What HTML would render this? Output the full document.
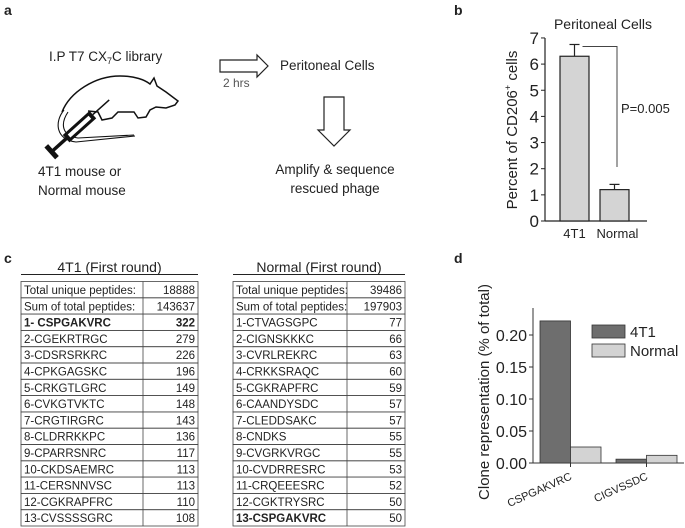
<!DOCTYPE html>
<html><head><meta charset="utf-8"><style>
body{margin:0;background:#fff;}
svg{display:block;font-family:"Liberation Sans",Arial,sans-serif;}
.tb{font-family:"Liberation Sans",sans-serif;font-size:11.5px;fill:#222;}
</style></head><body>
<svg width="685" height="528" viewBox="0 0 685 528">
<g font-weight="bold" font-size="14" fill="#222">
<text x="4" y="15">a</text>
<text x="454" y="15">b</text>
<text x="4" y="263">c</text>
<text x="454" y="263">d</text>
</g>
<!-- panel a -->
<g font-size="13.5" fill="#222">
<text x="49" y="61">I.P T7 CX<tspan font-size="9" dy="3">7</tspan><tspan dy="-3">C library</tspan></text>
<path d="M62,112 C70,92 95,76 120,76 C135,76 145,80 150,84 L154,78 L157,86 L166,92 L178,101 L175,105 L166,108 L156,107 L150,110 L146,117 L138,118 L134,112 L118,112 L112,118 L102,120 L98,112 L88,111" fill="none" stroke="#111" stroke-width="1.5"/>
<path d="M64,110 C54,122 56,140 76,142 L135,136 M68,112 C60,124 62,136 78,138 L134,135" fill="none" stroke="#111" stroke-width="1.1"/>
<g transform="rotate(-42 78 128)">
<rect x="62" y="123" width="36" height="10" fill="#111"/>
<rect x="66" y="126" width="28" height="4" fill="#fff"/>
<line x1="98" y1="128" x2="120" y2="128" stroke="#111" stroke-width="1.5"/>
<line x1="44" y1="128" x2="62" y2="128" stroke="#111" stroke-width="3.5"/>
<rect x="40" y="120" width="5" height="16" fill="#111"/>
</g>
<text x="38" y="176">4T1 mouse or</text>
<text x="38" y="195">Normal mouse</text>
<path d="M220,60 L257,60 L257,55 L268,66 L257,77 L257,72 L220,72 Z" fill="#fff" stroke="#222" stroke-width="1.2"/>
<text x="223" y="87" font-size="12" fill="#555">2 hrs</text>
<text x="280" y="70">Peritoneal Cells</text>
<path d="M324,97 L344,97 L344,130 L350,130 L334,146 L318,130 L324,130 Z" fill="#fff" stroke="#222" stroke-width="1.2"/>
<text x="335" y="174" text-anchor="middle">Amplify  &amp; sequence</text>
<text x="335" y="193" text-anchor="middle">rescued phage</text>
</g>
<g id="chartB"></g>
<g id="tables"></g>
<g id="chartD"></g>
</svg>
<script>
const NS="http://www.w3.org/2000/svg";
function mk(p,t,a,txt){const e=document.createElementNS(NS,t);for(const k in a)e.setAttribute(k,a[k]);if(txt!==undefined)e.textContent=txt;p.appendChild(e);return e;}

// ---- Panel b data
const bCategories=["4T1","Normal"];
const bValues=[6.3,1.2];
const bErrors=[0.45,0.2];
const bTicks=[0,1,2,3,4,5,6,7];
(function(){
const g=document.getElementById('chartB');
const x0=545,y0=221,yk=26.15;
const y=v=>y0-v*yk;
const barX=[560,600],bw=29;
let t=mk(g,'text',{x:603,y:29,'font-size':'14','text-anchor':'middle',fill:'#222'},'Peritoneal Cells');

mk(g,'line',{x1:x0,y1:y(7),x2:x0,y2:y0,stroke:'#222','stroke-width':1.2});
mk(g,'line',{x1:x0,y1:y0,x2:647,y2:y0,stroke:'#222','stroke-width':1.2});
bTicks.forEach(v=>{
 mk(g,'line',{x1:x0-4,y1:y(v),x2:x0,y2:y(v),stroke:'#222'});
 const l=mk(g,'text',{x:x0-6,y:y(v)+6,'font-size':'17','text-anchor':'end',fill:'#222'},v);
 
});
bValues.forEach((v,i)=>{
 const r=mk(g,'rect',{x:barX[i],y:y(v),width:bw,height:y0-y(v),fill:'#d4d4d4',stroke:'#222','stroke-width':1.2});
 
 const cx=barX[i]+bw/2;
 mk(g,'line',{x1:cx,y1:y(v),x2:cx,y2:y(v+bErrors[i]),stroke:'#222','stroke-width':1.2});
 mk(g,'line',{x1:cx-5,y1:y(v+bErrors[i]),x2:cx+5,y2:y(v+bErrors[i]),stroke:'#222','stroke-width':1.2});
 const l=mk(g,'text',{x:cx+(i?3:0),y:238,'font-size':'13','text-anchor':'middle',fill:'#222'},bCategories[i]);
 
});
const bt=y(bValues[0]+bErrors[0])+2;
mk(g,'polyline',{points:`${barX[0]+bw/2+8},${bt} 617,${bt} 617,167`,fill:'none',stroke:'#444','stroke-width':1});
t=mk(g,'text',{x:621,y:113,'font-size':'13',fill:'#222'},'P=0.005');

t=mk(g,'text',{x:0,y:0,'font-size':'15','text-anchor':'middle',fill:'#222',transform:'translate(517,130) rotate(-90)'});
t.innerHTML='Percent of CD206<tspan font-size="9" dy="-6">+</tspan><tspan dy="6"> cells</tspan>';

})();

// ---- Tables
const leftRows=[["Total unique peptides:","18888"],["Sum of total peptides:","143637"],["1- CSPGAKVRC","322"],["2-CGEKRTRGC","279"],["3-CDSRSRKRC","226"],["4-CPKGAGSKC","196"],["5-CRKGTLGRC","149"],["6-CVKGTVKTC","148"],["7-CRGTIRGRC","143"],["8-CLDRRKKPC","136"],["9-CPARRSNRC","117"],["10-CKDSAEMRC","113"],["11-CERSNNVSC","113"],["12-CGKRAPFRC","110"],["13-CVSSSSGRC","108"]];
const rightRows=[["Total unique peptides:","39486"],["Sum of total peptides:","197903"],["1-CTVAGSGPC","77"],["2-CIGNSKKKC","66"],["3-CVRLREKRC","63"],["4-CRKKSRAQC","60"],["5-CGKRAPFRC","59"],["6-CAANDYSDC","57"],["7-CLEDDSAKC","57"],["8-CNDKS","55"],["9-CVGRKVRGC","55"],["10-CVDRRESRC","53"],["11-CRQEEESRC","52"],["12-CGKTRYSRC","50"],["13-CSPGAKVRC","50"]];
(function(){
const g=document.getElementById('tables');
function table(rows,x0,xd,x1,title,name,boldIdx,boldVal){
 const t=mk(g,'text',{x:(x0+x1)/2,y:272,'font-size':'14','text-anchor':'middle',fill:'#222'},title);
 
 mk(g,'line',{x1:x0,y1:274.5,x2:x1,y2:274.5,stroke:'#222'});
 const top=281.5,rh=16.3;
 rows.forEach((r,i)=>{
  const yy=top+i*rh;
  mk(g,'rect',{x:x0,y:yy,width:x1-x0,height:rh,fill:'none',stroke:'#444','stroke-width':0.8});
  const b=i===boldIdx;
  const a=mk(g,'text',{x:x0+3,y:yy+12.5,class:'tb','font-weight':b?'bold':'normal'},r[0]);
  
  const c=mk(g,'text',{x:x1-3,y:yy+12.5,class:'tb','text-anchor':'end','font-weight':(b&&boldVal)?'bold':'normal'},r[1]);
  
 });
 mk(g,'line',{x1:xd,y1:top,x2:xd,y2:top+rows.length*rh,stroke:'#444','stroke-width':0.8});
}
table(leftRows,21,143,198,'4T1 (First round)','table-4t1',2,true);
table(rightRows,233,347,405,'Normal (First round)','table-normal',14,false);
})();

// ---- Panel d data
const dCategories=["CSPGAKVRC","CIGVSSDC"];
const d4T1=[0.222,0.006];
const dNormal=[0.025,0.012];
const dTicks=["0.00","0.05","0.10","0.15","0.20"];
(function(){
const g=document.getElementById('chartD');
const x0=533,y0=463,yk=32/0.05;
const y=v=>y0-v*yk;
const gx=[540,616],bw=30.5;
mk(g,'line',{x1:x0,y1:308,x2:x0,y2:y0,stroke:'#333','stroke-width':1});
mk(g,'line',{x1:x0,y1:y0,x2:684,y2:y0,stroke:'#333','stroke-width':1});
dTicks.forEach(s=>{const v=parseFloat(s);
 mk(g,'line',{x1:x0-4,y1:y(v),x2:x0,y2:y(v),stroke:'#333'});
 const l=mk(g,'text',{x:x0-6,y:y(v)+6,'font-size':'16','text-anchor':'end',fill:'#222'},s);
 
});
dCategories.forEach((c,i)=>{
 let r=mk(g,'rect',{x:gx[i],y:y(d4T1[i]),width:bw,height:y0-y(d4T1[i]),fill:'#6e6e6e',stroke:'#333','stroke-width':0.8});
 
 r=mk(g,'rect',{x:gx[i]+bw,y:y(dNormal[i]),width:bw,height:y0-y(dNormal[i]),fill:'#d3d3d3',stroke:'#333','stroke-width':0.8});
 
 mk(g,'line',{x1:gx[i]+bw,y1:y0,x2:gx[i]+bw,y2:y0+4,stroke:'#333'});
 const cx=gx[i]+bw+2, cy=y0+16;
 const l=mk(g,'text',{x:cx,y:cy,'font-size':'11','text-anchor':'end',fill:'#222',transform:`rotate(-24 ${cx} ${cy})`},c);
 
});
[["4T1","#6e6e6e",325],["Normal","#d3d3d3",344]].forEach(([n,col,yy])=>{
 const r=mk(g,'rect',{x:592,y:yy,width:33,height:13,fill:col,stroke:'#333','stroke-width':0.8});
 
 const t=mk(g,'text',{x:630,y:yy+12,'font-size':'15',fill:'#222'},n);
 
});
const t=mk(g,'text',{x:0,y:0,'font-size':'15','text-anchor':'middle',fill:'#222',transform:'translate(489,392) rotate(-90)'},'Clone representation (% of total)');

})();
</script>
</body></html>
